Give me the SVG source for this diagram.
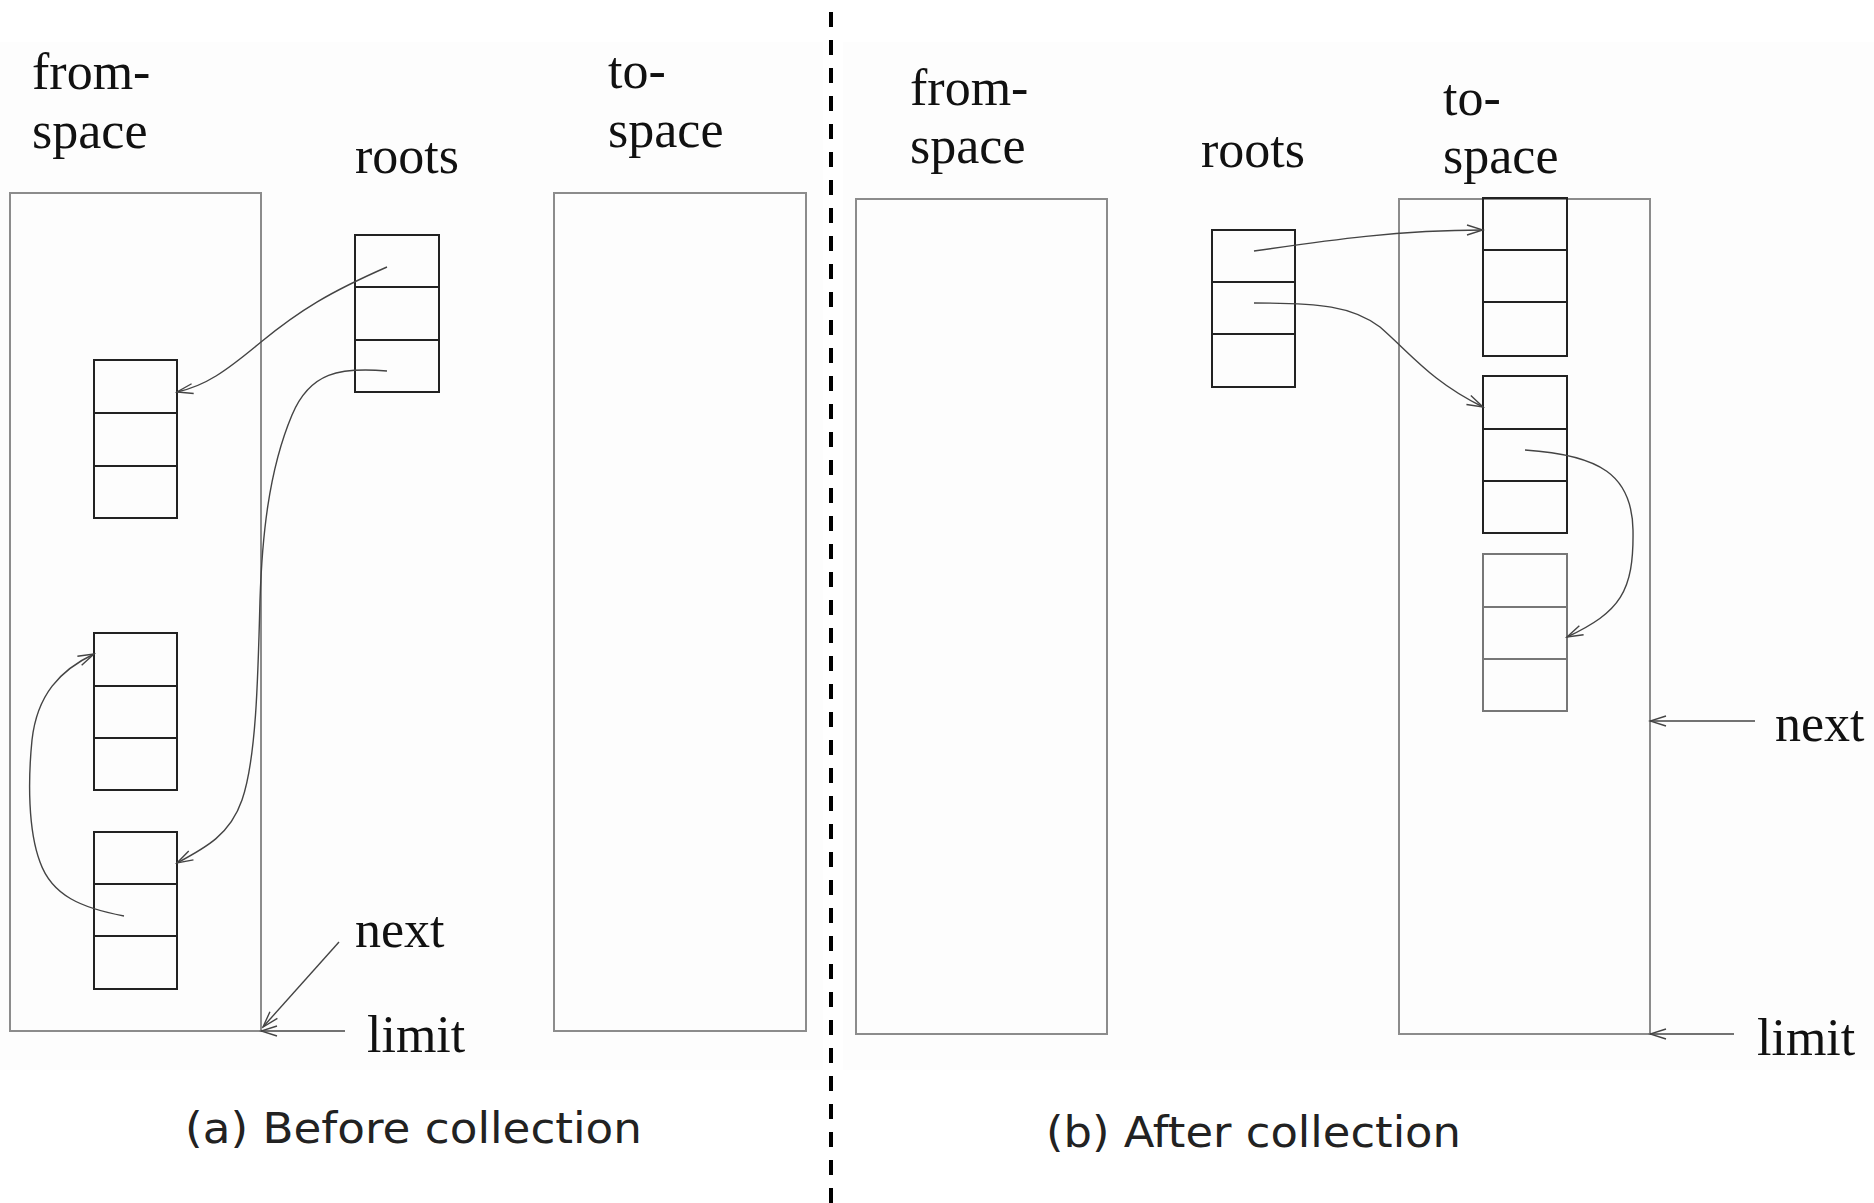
<svg xmlns="http://www.w3.org/2000/svg" width="1874" height="1203" viewBox="0 0 1874 1203">
  <defs>
    <style>
      .lbl { font-family: "Liberation Serif", "Times New Roman", serif; font-size: 52px; fill: #111; }
      .cap { font-family: "DejaVu Sans", "Liberation Sans", sans-serif; font-size: 43px; fill: #222; }
      .space { fill: none; stroke: #8c8c8c; stroke-width: 2; }
      .cell { fill: none; stroke: #222; stroke-width: 2; }
      .cellg { fill: none; stroke: #777; stroke-width: 2; }
      .ptr { fill: none; stroke: #444; stroke-width: 1.4; marker-end: url(#arr); }
      .divider { stroke: #000; stroke-width: 4; stroke-dasharray: 15 13; }
    </style>
    <marker id="arr" markerUnits="userSpaceOnUse" markerWidth="20" markerHeight="14" viewBox="-18 -7 20 14" refX="0" refY="0" orient="auto">
      <path d="M-16,-5 L0,0 L-16,5" fill="none" stroke="#444" stroke-width="1.4"/>
    </marker>
  </defs>

  <rect x="0" y="0" width="1874" height="1203" fill="#ffffff"/>
  <rect x="0" y="42" width="823" height="1028" fill="#fdfdfd"/>
  <rect x="843" y="42" width="1031" height="1028" fill="#fdfdfd"/>

  <line id="divider" class="divider" x1="831" y1="12" x2="831" y2="1203"/>

  <!-- Panel (a) -->
  <g id="a-fromspace">
    <rect class="space" x="10" y="193" width="251" height="838"/>
    <text class="lbl" x="32" y="89">from-</text>
    <text class="lbl" x="32" y="148">space</text>
  </g>
  <g id="a-tospace">
    <rect class="space" x="554" y="193" width="252" height="838"/>
    <text class="lbl" x="608" y="88">to-</text>
    <text class="lbl" x="608" y="147">space</text>
  </g>
  <g id="a-roots">
    <text class="lbl" x="355" y="173">roots</text>
    <rect class="cell" x="355" y="235" width="84" height="157"/>
    <line class="cell" x1="355" y1="287" x2="439" y2="287"/>
    <line class="cell" x1="355" y1="340" x2="439" y2="340"/>
  </g>
  <g id="a-obj1">
    <rect class="cell" x="94" y="360" width="83" height="158"/>
    <line class="cell" x1="94" y1="413" x2="177" y2="413"/>
    <line class="cell" x1="94" y1="466" x2="177" y2="466"/>
  </g>
  <g id="a-obj2">
    <rect class="cell" x="94" y="633" width="83" height="157"/>
    <line class="cell" x1="94" y1="686" x2="177" y2="686"/>
    <line class="cell" x1="94" y1="738" x2="177" y2="738"/>
  </g>
  <g id="a-obj3">
    <rect class="cell" x="94" y="832" width="83" height="157"/>
    <line class="cell" x1="94" y1="884" x2="177" y2="884"/>
    <line class="cell" x1="94" y1="936" x2="177" y2="936"/>
  </g>
  <g id="a-next"><text class="lbl" x="355" y="947">next</text></g>
  <g id="a-limit"><text class="lbl" x="367" y="1052">limit</text></g>
  <g id="a-caption"><text class="cap" x="185" y="1143" textLength="457" lengthAdjust="spacingAndGlyphs">(a) Before collection</text></g>

  <!-- Panel (b) -->
  <g id="b-fromspace">
    <rect class="space" x="856" y="199" width="251" height="835"/>
    <text class="lbl" x="910" y="105">from-</text>
    <text class="lbl" x="910" y="163">space</text>
  </g>
  <g id="b-roots">
    <text class="lbl" x="1201" y="167">roots</text>
    <rect class="cell" x="1212" y="230" width="83" height="157"/>
    <line class="cell" x1="1212" y1="282" x2="1295" y2="282"/>
    <line class="cell" x1="1212" y1="334" x2="1295" y2="334"/>
  </g>
  <g id="b-tospace">
    <rect class="space" x="1399" y="199" width="251" height="835"/>
    <text class="lbl" x="1443" y="115">to-</text>
    <text class="lbl" x="1443" y="173">space</text>
  </g>
  <g id="b-objA">
    <rect class="cell" x="1483" y="198" width="84" height="158"/>
    <line class="cell" x1="1483" y1="250" x2="1567" y2="250"/>
    <line class="cell" x1="1483" y1="302" x2="1567" y2="302"/>
  </g>
  <g id="b-objB">
    <rect class="cell" x="1483" y="376" width="84" height="157"/>
    <line class="cell" x1="1483" y1="429" x2="1567" y2="429"/>
    <line class="cell" x1="1483" y1="481" x2="1567" y2="481"/>
  </g>
  <g id="b-objC">
    <rect class="cellg" x="1483" y="554" width="84" height="157"/>
    <line class="cellg" x1="1483" y1="607" x2="1567" y2="607"/>
    <line class="cellg" x1="1483" y1="659" x2="1567" y2="659"/>
  </g>
  <g id="b-next"><text class="lbl" x="1775" y="741">next</text></g>
  <g id="b-limit"><text class="lbl" x="1757" y="1055">limit</text></g>
  <g id="b-caption"><text class="cap" x="1046" y="1147" textLength="415" lengthAdjust="spacingAndGlyphs">(b) After collection</text></g>

  <!-- Connectors -->
  <g id="connectors">
    <path class="ptr" d="M387,267 C330,292 300,310 261,342 C225,372 205,386 177,392"/>
    <path class="ptr" d="M387,371 C340,367 310,372 292,415 C268,472 262,540 260,600 C258,680 256,760 242,800 C230,835 205,848 177,863"/>
    <path class="ptr" d="M124,916 C82,908 52,896 40,862 C28,830 28,780 32,740 C37,695 60,670 94,654"/>
    <path class="ptr" d="M339,942 L263,1027"/>
    <path class="ptr" d="M345,1031 L261,1031"/>

    <path class="ptr" d="M1254,251 C1330,240 1400,230 1483,230"/>
    <path class="ptr" d="M1254,303 C1320,303 1352,306 1380,327 C1412,355 1432,382 1483,407"/>
    <path class="ptr" d="M1525,450 C1600,455 1632,475 1633,530 C1634,592 1620,612 1567,637"/>
    <path class="ptr" d="M1755,721 L1650,721"/>
    <path class="ptr" d="M1734,1034 L1650,1034"/>
  </g>
</svg>
